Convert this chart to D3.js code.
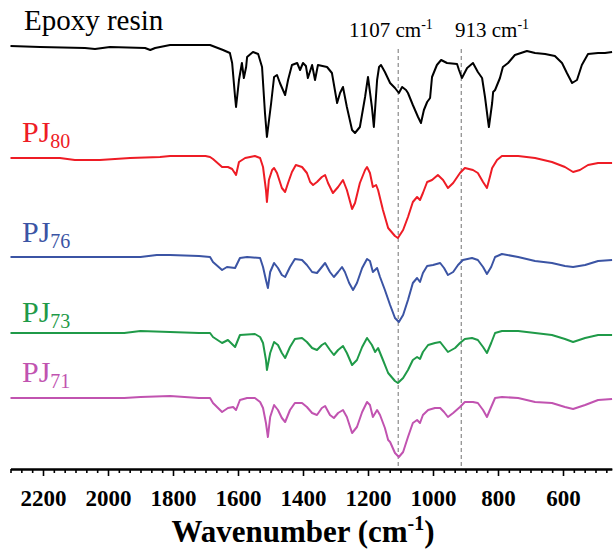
<!DOCTYPE html>
<html>
<head>
<meta charset="utf-8">
<script src="https://cdn.jsdelivr.net/npm/d3@7/dist/d3.min.js"></script>
<style>
  body { margin: 0; background: #fff; }
  svg { display: block; }
</style>
</head>
<body>
<div id="chart"></div>
<script>
// FTIR spectra: [wavenumber (cm-1), transmittance (a.u., curves stacked)]
var epoxy = [[2300,84.6],[2209,84.4],[2071,84.2],[2040,84.0],[1994,84.4],[1886,84.2],[1870,83.8],[1855,84.2],[1809,84.8],[1686,84.8],[1646,83.8],[1625,83.2],[1618,81.2],[1609,74.4],[1606,72.4],[1597,77.8],[1588,81.2],[1582,78.2],[1575,80.4],[1572,82.4],[1554,83.4],[1538,83.0],[1526,80.4],[1517,71.2],[1511,66.4],[1498,73.2],[1489,78.4],[1480,78.8],[1471,77.2],[1455,74.8],[1446,77.8],[1434,80.8],[1418,81.2],[1409,79.8],[1400,81.2],[1391,80.6],[1385,78.2],[1372,80.8],[1363,77.8],[1354,80.8],[1326,80.4],[1311,79.2],[1295,73.2],[1286,75.2],[1277,76.4],[1265,72.4],[1249,67.8],[1240,67.2],[1225,68.4],[1209,74.4],[1200,78.4],[1188,72.4],[1182,68.4],[1172,77.8],[1166,80.4],[1160,80.8],[1148,79.4],[1132,77.2],[1117,76.2],[1105,75.2],[1095,76.4],[1083,75.8],[1077,75.2],[1062,72.8],[1046,70.4],[1037,69.2],[1028,71.8],[1018,73.4],[1009,74.2],[1003,78.4],[988,80.8],[975,81.8],[957,81.2],[926,81.0],[920,79.8],[911,78.2],[895,80.2],[877,81.2],[862,79.4],[849,78.2],[840,74.4],[831,69.8],[828,68.4],[818,73.2],[815,75.4],[809,75.8],[794,78.2],[785,80.4],[769,81.2],[748,82.8],[711,83.6],[686,83.2],[655,83.0],[625,82.6],[603,81.2],[588,79.2],[572,77.2],[557,77.8],[542,80.8],[523,83.0],[492,83.2],[471,83.2],[449,83.4]];

var pj80 = [[2300,62.2],[2148,62.2],[2102,61.8],[2025,61.8],[1932,62.2],[1840,62.4],[1809,62.6],[1700,62.6],[1686,62.4],[1677,62.0],[1649,60.4],[1631,60.4],[1618,60.0],[1606,58.8],[1597,61.4],[1578,62.2],[1548,62.6],[1532,62.2],[1523,60.4],[1514,55.8],[1511,53.4],[1505,57.8],[1495,59.8],[1489,60.2],[1480,59.2],[1465,56.2],[1455,55.4],[1446,57.2],[1434,59.4],[1422,60.8],[1403,60.4],[1388,59.2],[1378,57.4],[1369,56.8],[1357,57.4],[1342,58.4],[1332,58.8],[1323,57.2],[1308,55.2],[1292,56.4],[1277,57.8],[1265,55.8],[1249,52.0],[1240,53.2],[1225,57.2],[1209,59.8],[1203,60.4],[1194,59.2],[1185,56.4],[1175,56.8],[1169,55.8],[1154,51.8],[1138,48.2],[1117,46.6],[1108,46.2],[1092,47.8],[1077,50.4],[1062,53.4],[1049,54.4],[1040,53.8],[1031,55.2],[1018,57.4],[1003,57.8],[985,58.8],[969,57.8],[954,56.2],[938,57.2],[917,59.2],[902,60.2],[877,59.8],[862,59.2],[846,57.4],[834,56.2],[825,58.4],[818,60.2],[803,61.8],[788,62.6],[738,62.6],[686,62.2],[634,61.4],[594,60.4],[569,59.4],[548,59.8],[523,60.8],[492,61.2],[449,61.2]];

var pj76 = [[2300,42.4],[1900,42.4],[1850,42.8],[1809,42.8],[1720,42.6],[1686,42.4],[1677,41.4],[1649,39.8],[1634,40.4],[1609,40.2],[1594,42.2],[1572,42.4],[1532,42.2],[1523,40.4],[1514,37.8],[1508,36.2],[1501,39.4],[1489,41.2],[1477,40.2],[1465,38.8],[1455,38.4],[1440,40.4],[1425,42.0],[1403,41.8],[1388,40.8],[1372,39.4],[1357,39.2],[1342,40.4],[1332,41.2],[1317,39.4],[1305,38.4],[1292,39.4],[1280,40.4],[1271,39.4],[1258,37.2],[1246,35.8],[1234,37.2],[1218,40.2],[1203,42.0],[1194,41.6],[1185,39.4],[1172,40.2],[1163,38.4],[1148,35.8],[1132,32.8],[1117,30.2],[1105,29.4],[1092,30.8],[1077,33.8],[1062,37.2],[1049,38.2],[1040,37.4],[1031,39.2],[1018,40.6],[1000,40.8],[978,41.2],[966,40.2],[954,38.8],[938,39.4],[923,40.8],[908,41.8],[880,42.2],[862,41.8],[846,40.4],[834,39.0],[821,40.4],[809,42.4],[788,43.0],[738,42.4],[686,41.6],[634,41.2],[594,40.6],[569,40.4],[532,40.8],[492,41.6],[449,41.8]];

var pj73 = [[2300,27.2],[1950,27.2],[1900,27.6],[1809,27.4],[1720,27.2],[1686,27.2],[1677,26.4],[1649,25.2],[1631,25.8],[1609,24.4],[1594,26.8],[1548,27.0],[1532,26.4],[1523,25.2],[1514,21.8],[1511,19.8],[1501,23.2],[1489,25.4],[1477,24.8],[1465,23.2],[1455,22.2],[1440,24.4],[1425,26.0],[1403,26.2],[1388,25.4],[1372,24.2],[1357,23.8],[1342,24.8],[1332,25.2],[1317,23.8],[1305,22.8],[1292,23.8],[1277,24.6],[1265,23.2],[1249,20.8],[1234,21.8],[1218,24.4],[1203,26.2],[1188,24.8],[1178,23.4],[1169,24.2],[1154,21.8],[1138,19.2],[1117,17.6],[1108,17.2],[1092,18.2],[1077,19.8],[1062,21.8],[1049,22.4],[1040,22.0],[1031,23.4],[1015,24.8],[994,25.2],[978,25.4],[966,24.4],[954,23.4],[932,24.2],[917,25.2],[902,26.0],[880,26.2],[862,25.8],[846,24.4],[834,23.2],[821,25.2],[809,27.2],[788,27.6],[738,27.6],[686,27.2],[634,26.8],[594,26.0],[569,25.4],[532,26.2],[492,26.8],[449,26.8]];

var pj71 = [[2300,14.2],[1950,14.2],[1900,14.4],[1809,14.6],[1720,14.2],[1686,14.2],[1677,13.2],[1649,11.4],[1631,12.2],[1615,12.4],[1606,11.8],[1594,13.8],[1572,14.2],[1548,14.2],[1532,13.4],[1523,12.2],[1514,9.2],[1508,6.4],[1501,10.4],[1489,12.8],[1477,11.8],[1465,10.2],[1455,9.4],[1440,11.8],[1425,13.2],[1403,13.2],[1388,12.4],[1372,11.2],[1357,10.8],[1342,12.2],[1332,12.6],[1317,10.8],[1305,10.2],[1292,11.2],[1277,11.8],[1265,10.4],[1249,7.2],[1234,8.4],[1218,11.4],[1203,13.4],[1194,12.8],[1185,10.4],[1172,11.8],[1163,10.8],[1148,8.2],[1138,5.8],[1132,5.4],[1117,3.2],[1105,2.4],[1092,3.4],[1077,6.4],[1062,9.2],[1049,9.8],[1040,9.2],[1031,10.8],[1015,11.8],[994,12.2],[978,12.2],[966,11.4],[954,10.4],[938,11.2],[917,12.4],[902,13.4],[877,13.4],[862,13.2],[846,11.8],[834,10.4],[821,12.4],[809,14.2],[788,14.4],[738,14.2],[686,13.4],[634,13.2],[594,12.4],[569,12.0],[532,12.8],[492,13.8],[449,14.0]];

var seriesData = [epoxy, pj80, pj76, pj73, pj71];
var seriesColors = ["#000000", "#ee1c25", "#3b54a4", "#1f9a48", "#c153b0"];
var labelMain = ["Epoxy resin", "PJ", "PJ", "PJ", "PJ"];
var labelSub = ["", "80", "76", "73", "71"];
var labelLevel = [87.8, 65.5, 45.5, 29.5, 17.5];

var markerWavenumbers = [1107, 913];
var majorTicks = [2200, 2000, 1800, 1600, 1400, 1200, 1000, 800, 600];
var minorStep = 200 / 6;

var width = 613, height = 550;
var serif = "'Liberation Serif'";

var svg = d3.select("#chart")
  .append("svg")
    .attr("width", width)
    .attr("height", height);

var x = d3.scaleLinear().domain([2300, 450]).range([10.5, 611.75]);
var y = d3.scaleLinear().domain([0, 90]).range([469, 19]);

// dashed marker lines
svg.selectAll(".marker")
  .data(markerWavenumbers)
  .enter().append("line")
    .attr("class", "marker")
    .attr("x1", d => x(d)).attr("x2", d => x(d))
    .attr("y1", y(84)).attr("y2", y(0))
    .attr("stroke", "#8a8a8a")
    .attr("stroke-width", 1.2)
    .attr("stroke-dasharray", "4,3");

var line = d3.line()
  .x(d => x(d[0]))
  .y(d => y(d[1]));

svg.selectAll(".spectrum")
  .data(seriesData)
  .enter().append("path")
    .attr("class", "spectrum")
    .attr("d", line)
    .attr("fill", "none")
    .attr("stroke", (d, i) => seriesColors[i])
    .attr("stroke-width", 2)
    .attr("stroke-linejoin", "round");

// series labels
seriesData.forEach(function(d, i) {
  var t = svg.append("text")
    .attr("x", i == 0 ? 24 : 22)
    .attr("y", y(labelLevel[i]))
    .attr("fill", seriesColors[i])
    .style("font-family", serif)
    .style("font-size", i == 0 ? "29px" : "30px")
    .text(labelMain[i]);
  if (labelSub[i]) {
    t.append("tspan")
      .attr("dy", 6)
      .style("font-size", "20px")
      .text(labelSub[i]);
  }
});

// marker labels
var markerLabelX = [349, 455];
markerWavenumbers.forEach(function(w, i) {
  var t = svg.append("text")
    .attr("x", markerLabelX[i])
    .attr("y", 37)
    .style("font-family", serif)
    .style("font-size", "21px")
    .text(w + " cm");
  t.append("tspan").attr("dy", -8).style("font-size", "14px").text("-1");
});

// x axis
var minorTicks = d3.range(2300, 440, -minorStep).filter(function(v) {
  return majorTicks.indexOf(Math.round(v)) < 0;
});

var minorAxis = svg.append("g")
  .attr("transform", "translate(0," + y(0) + ")")
  .call(d3.axisBottom(x).tickValues(minorTicks).tickSize(4).tickSizeOuter(0).tickFormat(""));

var majorAxis = svg.append("g")
  .attr("transform", "translate(0," + y(0) + ")")
  .call(d3.axisBottom(x).tickValues(majorTicks).tickSize(7).tickSizeOuter(0).tickPadding(14).tickFormat(d3.format("d")));

svg.selectAll(".domain").attr("stroke", "#000").attr("stroke-width", 2);
svg.selectAll(".tick line").attr("stroke", "#000").attr("stroke-width", 1.6);
majorAxis.selectAll(".tick text")
  .attr("fill", "#000")
  .style("font-family", serif)
  .style("font-size", "23px")
  .style("font-weight", "bold");

var title = svg.append("text")
  .attr("x", 303)
  .attr("y", 542)
  .attr("text-anchor", "middle")
  .style("font-family", serif)
  .style("font-size", "31px")
  .style("font-weight", "bold")
  .text("Wavenumber (cm");
title.append("tspan").attr("dy", -12).style("font-size", "20px").text("-1");
title.append("tspan").attr("dy", 12).text(")");
</script>
</body>
</html>
